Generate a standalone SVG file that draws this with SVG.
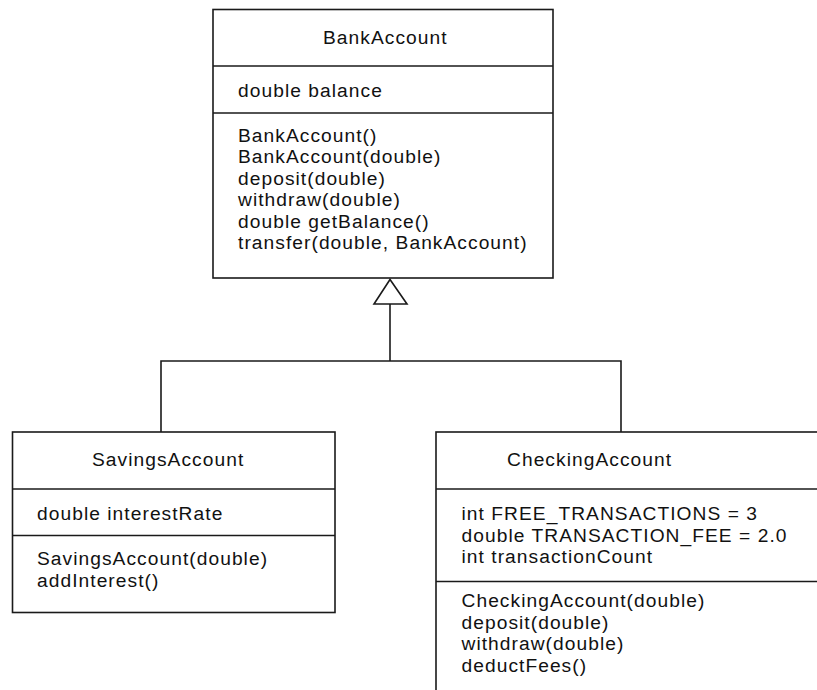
<svg xmlns="http://www.w3.org/2000/svg" width="817" height="690" viewBox="0 0 817 690">
<style>
.box{fill:#fff;stroke:#1a1a1a;stroke-width:1.6}
.ln{stroke:#1a1a1a;stroke-width:1.6;fill:none}
text{font-family:"Liberation Sans",Arial,sans-serif;font-size:19.2px;letter-spacing:1.05px;fill:#111}
</style>
<rect width="817" height="690" fill="#fff"/>
<g id="BankAccount">
<rect class="box" x="213" y="9.5" width="340" height="268.5"/>
<line class="ln" x1="213" y1="66" x2="553" y2="66"/>
<line class="ln" x1="213" y1="113" x2="553" y2="113"/>
<text x="323" y="44">BankAccount</text>
<text x="238" y="97">double balance</text>
<text x="238" y="141.5">BankAccount()</text>
<text x="238" y="163">BankAccount(double)</text>
<text x="238" y="184.5">deposit(double)</text>
<text x="238" y="206">withdraw(double)</text>
<text x="238" y="227.5">double getBalance()</text>
<text x="238" y="249">transfer(double, BankAccount)</text>
</g>
<g id="SavingsAccount">
<rect class="box" x="12.5" y="432" width="322.5" height="180.5"/>
<line class="ln" x1="12.5" y1="489" x2="335" y2="489"/>
<line class="ln" x1="12.5" y1="535.5" x2="335" y2="535.5"/>
<text x="92" y="466">SavingsAccount</text>
<text x="37" y="520">double interestRate</text>
<text x="37" y="565">SavingsAccount(double)</text>
<text x="37" y="586.5">addInterest()</text>
</g>
<g id="CheckingAccount">
<rect class="box" x="436" y="432" width="420" height="300"/>
<line class="ln" x1="436" y1="489" x2="817" y2="489"/>
<line class="ln" x1="436" y1="581.5" x2="817" y2="581.5"/>
<text x="507" y="466">CheckingAccount</text>
<text x="461.5" y="520">int FREE_TRANSACTIONS = 3</text>
<text x="461.5" y="541.5">double TRANSACTION_FEE = 2.0</text>
<text x="461.5" y="563">int transactionCount</text>
<text x="461.5" y="607">CheckingAccount(double)</text>
<text x="461.5" y="628.5">deposit(double)</text>
<text x="461.5" y="650">withdraw(double)</text>
<text x="461.5" y="671.5">deductFees()</text>
</g>
<g id="connectors">
<polyline class="ln" points="161,432 161,361 621,361 621,432"/>
<line class="ln" x1="390" y1="304" x2="390" y2="361"/>
<polygon class="ln" style="fill:#fff" points="390,279.5 374,304 407,304"/>
</g>
</svg>
